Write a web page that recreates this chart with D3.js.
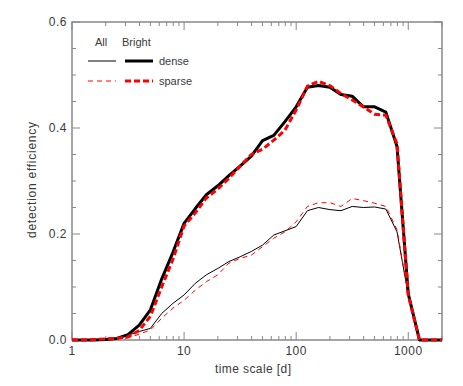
<!DOCTYPE html>
<html><head><meta charset="utf-8">
<script src="https://cdn.jsdelivr.net/npm/d3@7"></script>
<style>body{margin:0;background:#fff}svg{display:block}text{font-family:"Liberation Sans",Arial,sans-serif;fill:#3a3a3a}</style>
</head><body><svg id="c" width="463" height="386"></svg>
<script>
const timeScale = [1,1.26,1.58,2,2.51,3.16,3.98,5.01,6.31,7.94,10,12.6,15.8,20,25.1,31.6,39.8,50.1,63.1,79.4,100,126,158,200,251,316,398,501,631,794,1000,1259,1585,1995];
const brightDense  = [0,0,0,0.001,0.003,0.01,0.028,0.057,0.115,0.165,0.22,0.248,0.274,0.291,0.31,0.328,0.347,0.376,0.386,0.412,0.44,0.477,0.48,0.477,0.463,0.46,0.44,0.44,0.43,0.365,0.087,0,0,0];
const brightSparse = [0,0,0.001,0.002,0.003,0.006,0.018,0.045,0.1,0.152,0.215,0.24,0.268,0.285,0.305,0.328,0.35,0.36,0.377,0.396,0.434,0.479,0.488,0.48,0.465,0.453,0.44,0.426,0.424,0.37,0.085,0,0,0];
const allDense     = [0,0,0,0.001,0.003,0.009,0.016,0.022,0.05,0.069,0.085,0.107,0.123,0.135,0.148,0.157,0.167,0.179,0.198,0.206,0.214,0.244,0.25,0.246,0.244,0.252,0.25,0.251,0.247,0.204,0.085,0,0,0];
const allSparse    = [0,0,0,0.001,0.002,0.004,0.011,0.019,0.041,0.06,0.075,0.094,0.11,0.123,0.145,0.154,0.16,0.176,0.192,0.204,0.223,0.252,0.259,0.259,0.252,0.267,0.263,0.258,0.252,0.208,0.085,0,0,0];
const xTickVals = [1,10,100,1000];
const xTickLabels = ["1","10","100","1000"];
const yTickVals = [0,0.2,0.4,0.6];
const yTickLabels = ["0.0","0.2","0.4","0.6"];
const legendCols = ["All","Bright"];
const legendRows = ["dense","sparse"];

const L=72,R=442,T=22,B=340;
const svg=d3.select("#c");
const x=d3.scaleLog().domain([1,2000]).range([L,R]);
const y=d3.scaleLinear().domain([0,0.6]).range([B,T]);
const axisCol="#888";

const minorX=[];
for(let d=1;d<=1000;d*=10)for(let m=2;m<=9;m++){const v=d*m;if(v<=2000)minorX.push(v);}
const minorY=d3.range(0,0.6001,0.05).filter(v=>Math.abs(v*10-Math.round(v*10))>1e-6 || Math.round(v*10)%2===1);
const g=svg.append("g").attr("stroke",axisCol).attr("stroke-width",1);
xTickVals.forEach(v=>{g.append("line").attr("x1",x(v)).attr("x2",x(v)).attr("y1",B).attr("y2",B-8);g.append("line").attr("x1",x(v)).attr("x2",x(v)).attr("y1",T).attr("y2",T+8);});
minorX.forEach(v=>{g.append("line").attr("x1",x(v)).attr("x2",x(v)).attr("y1",B).attr("y2",B-4);g.append("line").attr("x1",x(v)).attr("x2",x(v)).attr("y1",T).attr("y2",T+4);});
yTickVals.forEach(v=>{g.append("line").attr("x1",L).attr("x2",L+8).attr("y1",y(v)).attr("y2",y(v));g.append("line").attr("x1",R).attr("x2",R-8).attr("y1",y(v)).attr("y2",y(v));});
minorY.forEach(v=>{g.append("line").attr("x1",L).attr("x2",L+4).attr("y1",y(v)).attr("y2",y(v));g.append("line").attr("x1",R).attr("x2",R-4).attr("y1",y(v)).attr("y2",y(v));});

svg.append("rect").attr("x",L).attr("y",T).attr("width",R-L).attr("height",B-T).attr("fill","none").attr("stroke",axisCol).attr("stroke-width",1.5);

xTickVals.forEach((v,i)=>svg.append("text").attr("x",x(v)).attr("y",355).attr("text-anchor","middle").attr("font-size",12).attr("letter-spacing",0.5).text(xTickLabels[i]));
yTickVals.forEach((v,i)=>svg.append("text").attr("x",67).attr("y",y(v)+4).attr("text-anchor","end").attr("font-size",12).attr("letter-spacing",0.5).text(yTickLabels[i]));
svg.append("text").attr("x",215).attr("y",373).attr("font-size",12).attr("textLength",76).attr("lengthAdjust","spacing").text("time scale [d]");
svg.append("text").attr("transform","translate(36,238) rotate(-90)").attr("font-size",12).attr("textLength",116).attr("lengthAdjust","spacing").text("detection efficiency");

const line=vals=>d3.line().x((d,i)=>x(timeScale[i])).y(d=>y(d))(vals);
const styles=[
 {data:allDense,stroke:"#000",w:1,dash:null},
 {data:allSparse,stroke:"#ff0000",w:1,dash:"5,4"},
 {data:brightDense,stroke:"#000",w:3,dash:null},
 {data:brightSparse,stroke:"#ff0000",w:3,dash:"6,3"}
];
const pg=svg.append("g");
styles.forEach(s=>pg.append("path").attr("d",line(s.data)).attr("fill","none").attr("stroke",s.stroke).attr("stroke-width",s.w).attr("stroke-dasharray",s.dash).attr("stroke-linejoin","round"));

svg.append("text").attr("x",95).attr("y",46).attr("font-size",11).text(legendCols[0]);
svg.append("text").attr("x",122).attr("y",46).attr("font-size",11).text(legendCols[1]);
const ly=[61,81];
legendRows.forEach((r,i)=>{
  const sa=styles[i], sb=styles[i+2];
  svg.append("line").attr("x1",88).attr("x2",116).attr("y1",ly[i]).attr("y2",ly[i]).attr("stroke",sa.stroke).attr("stroke-width",sa.w).attr("stroke-dasharray",sa.dash);
  svg.append("line").attr("x1",125).attr("x2",153).attr("y1",ly[i]).attr("y2",ly[i]).attr("stroke",sb.stroke).attr("stroke-width",sb.w).attr("stroke-dasharray",sb.dash);
  svg.append("text").attr("x",159).attr("y",ly[i]+4).attr("font-size",11).text(r);
});
</script></body></html>
